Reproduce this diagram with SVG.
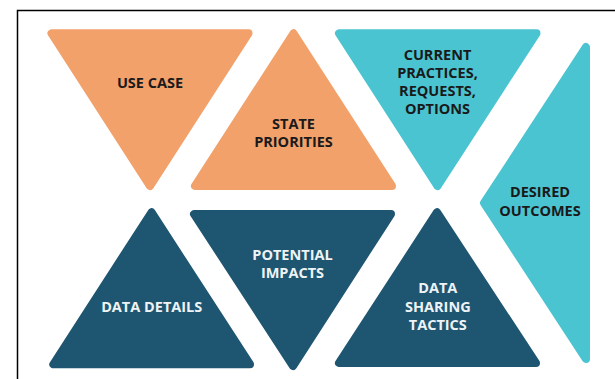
<svg xmlns="http://www.w3.org/2000/svg" width="615" height="379" viewBox="0 0 615 379">
<style>
.o{fill:#F2A16B;stroke:#F2A16B}
.c{fill:#4BC4D1;stroke:#4BC4D1}
.d{fill:#1E5570;stroke:#1E5570}
polygon{stroke-width:8;stroke-linejoin:round}
text{font-family:"Open Sans","Liberation Sans",sans-serif;font-weight:700;font-size:14.5px;text-anchor:middle}
.k{fill:#1a1a1a}
.w{fill:#eef3f5}
</style>
<rect width="615" height="379" fill="#ffffff"/>
<path d="M17.5,381 V10.5 H617" fill="none" stroke="#000" stroke-width="1.5"/>
<g id="use-case">
<polygon class="o" points="51.5,33.3 248.5,33.3 150,186"/>
<text class="k" x="150" y="88">USE CASE</text>
</g>
<g id="state-priorities">
<polygon class="o" points="293.5,33.3 195,186 392,186"/>
<text class="k" x="293.5" y="129">STATE</text>
<text class="k" x="293.5" y="147">PRIORITIES</text>
</g>
<g id="current-practices">
<polygon class="c" points="339,33.3 536.5,33.3 437.5,186"/>
<text class="k" x="437.5" y="59.5">CURRENT</text>
<text class="k" x="437.5" y="77.5">PRACTICES,</text>
<text class="k" x="437.5" y="95.5">REQUESTS,</text>
<text class="k" x="437.5" y="113.5">OPTIONS</text>
</g>
<g id="desired-outcomes">
<polygon class="c" points="586,47 586,359 484,203"/>
<text class="k" x="540" y="197">DESIRED</text>
<text class="k" x="540" y="215.5">OUTCOMES</text>
</g>
<g id="data-details">
<polygon class="d" points="151.5,212.3 53.3,364.3 250,364.3"/>
<text class="w" x="151.7" y="311.7">DATA DETAILS</text>
</g>
<g id="potential-impacts">
<polygon class="d" points="194,214 391,214 293,366"/>
<text class="w" x="292.5" y="260">POTENTIAL</text>
<text class="w" x="292.5" y="278.3">IMPACTS</text>
</g>
<g id="data-sharing-tactics">
<polygon class="d" points="437,212.3 339,363 536,363"/>
<text class="w" x="437.8" y="293.3">DATA</text>
<text class="w" x="437.8" y="311.7">SHARING</text>
<text class="w" x="437.8" y="330">TACTICS</text>
</g>
<g id="connectors"></g>
</svg>
